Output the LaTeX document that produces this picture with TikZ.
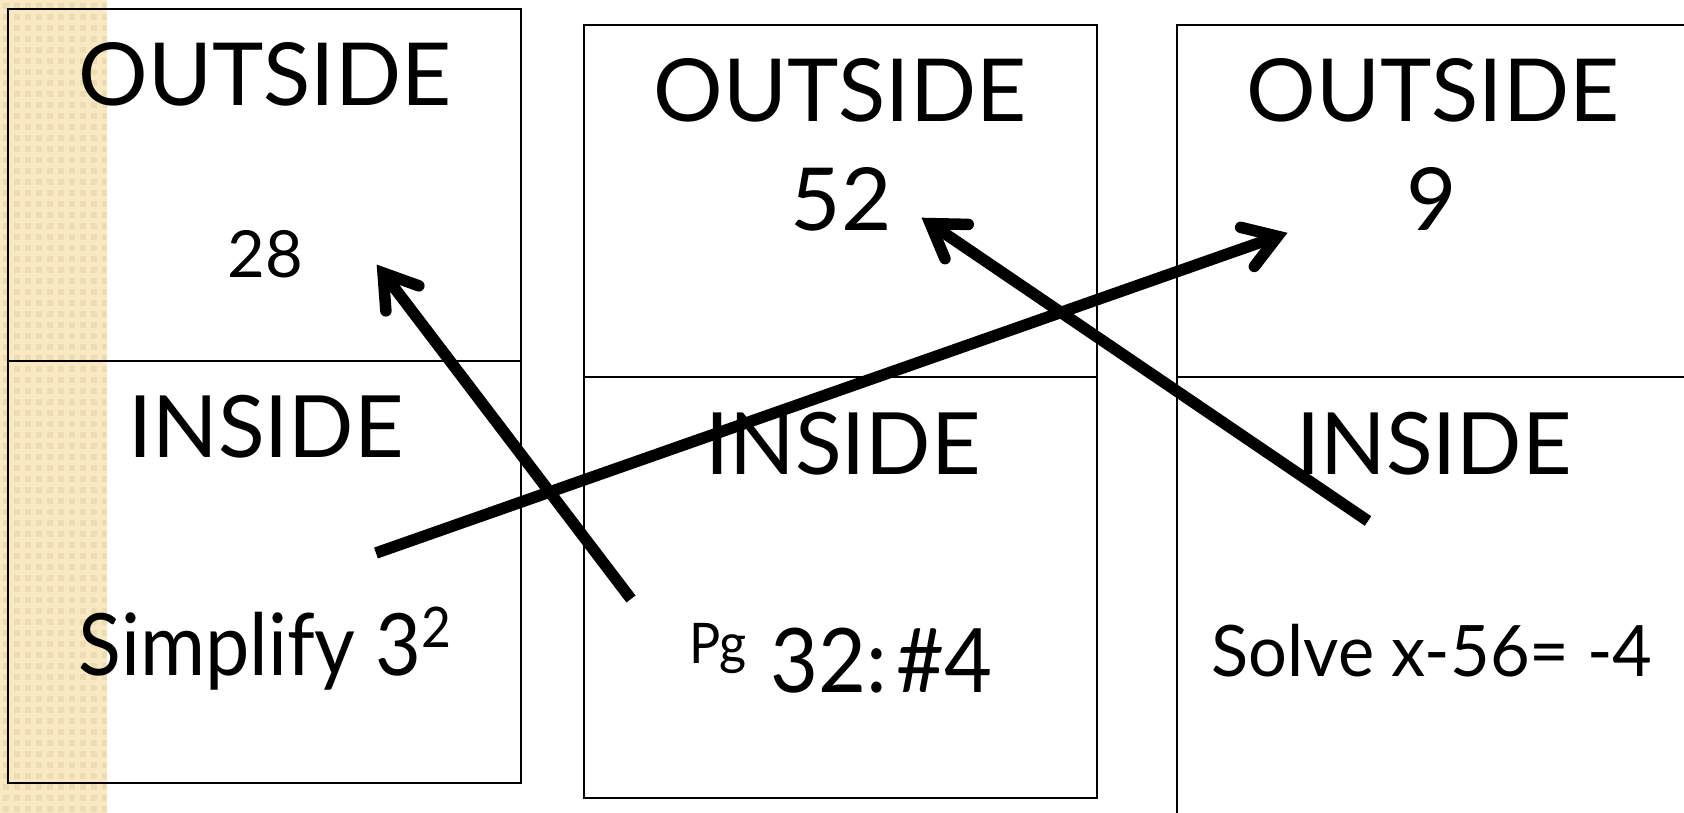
\documentclass[tikz,border=0pt]{standalone}
\usepackage{fontspec}
\setmainfont{Lato}
\usetikzlibrary{calc}
\definecolor{stripbg}{RGB}{249,233,194}
\definecolor{stripdot}{RGB}{237,220,178}
\tikzset{
  panel/.style={draw=black, line width=2pt},
  txt/.style={anchor=base, inner sep=0pt, outer sep=0pt},
  shaft/.style={draw=black, line width=11.5pt, line cap=butt},
  barb/.style={draw=black, line width=11.5pt, line cap=round, line join=miter, miter limit=10},
}
\newcommand{\fs}[1]{\fontsize{#1}{#1}\selectfont}
\newcommand{\arrowfromto}[2]{%
  \coordinate (v) at ($(#2)!10pt!(#1)$);
  \draw[shaft] (#1) -- (v);
  \draw[barb] ($(v)!38pt!33:(#1)$) -- (v) -- ($(v)!38pt!-33:(#1)$);
}
\begin{document}
\begin{tikzpicture}[x=1pt, y=-1pt]
\useasboundingbox (0,0) rectangle (1684,813);
% textured strip
\fill[stripbg] (0,0) rectangle (107,813);
\foreach \i in {0,...,9}{
  \foreach \j in {0,...,73}{
    \fill[stripdot] ({\i*11+3},{\j*11+3}) rectangle ++(6,6);
  }
}
\fill[white] (107,0) rectangle (1684,813);
% panels
\draw[panel] (8,9) rectangle (521,361);
\draw[panel] (8,361) rectangle (521,783);
\draw[panel] (584,25) rectangle (1097,377);
\draw[panel] (584,377) rectangle (1097,798);
\draw[panel] (1177,25) rectangle (1700,377);
\draw[panel] (1177,377) rectangle (1700,830);
% texts column 1
\node[txt, font=\fs{87}] (o1) at (265,106) {OUTSIDE};
\node[txt, font=\fs{65}] (a1) at (265,277) {28};
\node[txt, font=\fs{86}] (i1) at (266,457) {INSIDE};
\node[txt, font=\fs{86}\addfontfeature{FakeStretch=0.92}] (q1) at (265,675) {Simplify 3\raisebox{28pt}{\fs{56}2}};
% column 2
\node[txt, font=\fs{87}] (o2) at (840,122) {OUTSIDE};
\node[txt, font=\fs{87}] (a2) at (841,230) {52};
\node[txt, font=\fs{89}\addfontfeature{FakeStretch=0.93}] (q2) at (841,692) {\raisebox{29pt}{\fs{56}Pg}\hspace{24pt}32:\hspace{10pt}\#4};
\node[txt, font=\fs{86}] (i2) at (843,474) {INSIDE};
% column 3
\node[txt, font=\fs{87}] (o3) at (1433,122) {OUTSIDE};
\node[txt, font=\fs{87}] (a3) at (1432,230) {9};
\node[txt, font=\fs{86}] (i3) at (1434,474) {INSIDE};
\node[txt, font=\fs{71}\addfontfeature{FakeStretch=0.965}] (q3) at (1432,676) {Solve x-56= -4};
% arrow end points
\coordinate (t1) at (631,599);
\coordinate (h1) at (377,265);
\coordinate (t2) at (376,553);
\coordinate (h2) at (1287,233);
\coordinate (t3) at (1368,521);
\coordinate (h3) at (922,218);
\arrowfromto{t1}{h1}
\arrowfromto{t2}{h2}
\arrowfromto{t3}{h3}
\end{tikzpicture}
\end{document}
